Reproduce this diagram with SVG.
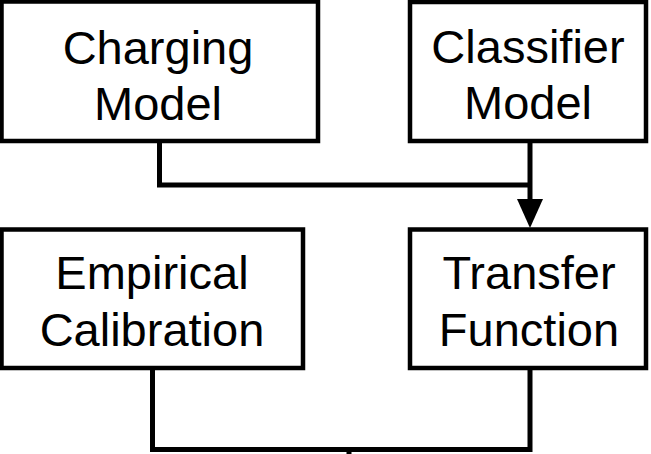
<svg xmlns="http://www.w3.org/2000/svg" width="651" height="454" viewBox="0 0 651 454">
  <style>
    .box { fill: #ffffff; stroke: #000000; stroke-width: 4.5; }
    .lbl { font-family: "Liberation Sans", Arial, sans-serif; font-size: 47px; fill: #000000; text-anchor: middle; }
    .wire { fill: none; stroke: #000000; stroke-width: 5; stroke-linejoin: miter; }
  </style>
  <rect width="651" height="454" fill="#ffffff"/>

  <g id="connectors">
    <path class="wire" d="M159.5,141 V185 H530"/>
    <path class="wire" d="M530,141 V200"/>
    <path d="M517,199 L543,199 L530,228 Z" fill="#000000"/>
    <path class="wire" d="M152.5,368 V449.5 H530 V368"/>
    <path class="wire" d="M349,449.5 V460"/>
  </g>

  <g id="charging-model">
    <rect class="box" x="1.5" y="1.5" width="316.5" height="139.5"/>
    <text class="lbl" x="158" y="64">Charging</text>
    <text class="lbl" x="158" y="120">Model</text>
  </g>

  <g id="classifier-model">
    <rect class="box" x="410" y="2" width="236" height="139"/>
    <text class="lbl" x="528" y="63">Classifier</text>
    <text class="lbl" x="528" y="119">Model</text>
  </g>

  <g id="empirical-calibration">
    <rect class="box" x="1.5" y="229.5" width="301.5" height="138.5"/>
    <text class="lbl" x="152" y="289">Empirical</text>
    <text class="lbl" x="152" y="346">Calibration</text>
  </g>

  <g id="transfer-function">
    <rect class="box" x="410" y="229.5" width="236" height="138.5"/>
    <text class="lbl" x="529" y="289">Transfer</text>
    <text class="lbl" x="529" y="346">Function</text>
  </g>
</svg>
